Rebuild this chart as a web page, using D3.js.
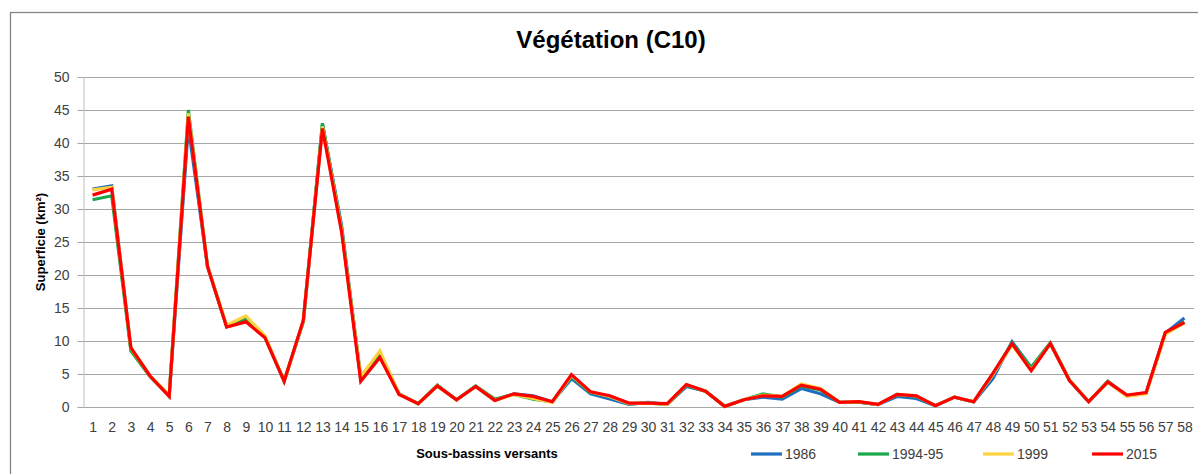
<!DOCTYPE html>
<html>
<head>
<meta charset="utf-8">
<script src="https://cdn.jsdelivr.net/npm/d3@7"></script>
<style>
  html, body { margin: 0; padding: 0; background: #fff; }
  svg { display: block; font-family: "Liberation Sans", Arial, sans-serif; }
</style>
</head>
<body>
<svg id="chart" width="1198" height="474"></svg>
<script>
// Sous-bassins versants 1..58
const categories = d3.range(1, 59).map(String);

// Surface of vegetation (km²) per sub-basin, by survey year
const s1986 = [33.0, 33.5, 8.8, 4.7, 1.7, 42.5, 21.3, 12.2, 13.3, 10.7,
  3.9, 13.0, 42.8, 27.5, 4.2, 7.8, 2.0, 0.5, 3.2, 1.1,
  3.1, 1.0, 2.0, 1.7, 0.8, 4.3, 2.0, 1.2, 0.4, 0.7,
  0.4, 3.1, 2.4, 0.1, 1.1, 1.5, 1.2, 2.8, 2.0, 0.7,
  0.75, 0.35, 1.6, 1.3, 0.2, 1.5, 0.75, 4.3, 9.9, 6.0,
  9.7, 4.0, 0.8, 3.8, 1.7, 2.1, 11.2, 13.5];
const s1994 = [31.4, 32.0, 8.5, 4.6, 1.8, 45.0, 21.3, 12.2, 13.2, 10.6,
  3.9, 12.9, 43.0, 27.0, 4.6, 8.1, 2.0, 0.5, 3.3, 1.1,
  3.2, 1.2, 1.9, 1.2, 0.8, 4.6, 2.2, 1.6, 0.5, 0.6,
  0.4, 3.3, 2.4, 0.1, 1.1, 2.0, 1.5, 3.2, 2.6, 0.7,
  0.75, 0.35, 1.9, 1.6, 0.2, 1.5, 0.8, 5.0, 9.7, 6.0,
  9.7, 4.1, 0.8, 3.9, 1.7, 2.1, 11.1, 12.9];
const s1999 = [32.9, 33.3, 8.9, 4.7, 1.8, 44.5, 21.3, 12.4, 13.8, 10.8,
  3.9, 13.0, 42.5, 26.8, 4.6, 8.5, 2.0, 0.5, 3.2, 1.1,
  3.1, 1.0, 1.9, 1.3, 0.7, 4.8, 2.3, 1.6, 0.5, 0.6,
  0.4, 3.4, 2.4, 0.1, 1.1, 1.8, 1.6, 3.5, 2.8, 0.7,
  0.8, 0.35, 1.9, 1.7, 0.2, 1.5, 0.8, 4.9, 9.4, 5.6,
  9.6, 4.1, 0.8, 3.8, 1.6, 2.0, 11.0, 12.8];
const s2015 = [32.1, 33.0, 9.0, 4.7, 1.6, 44.0, 21.3, 12.1, 12.9, 10.5,
  3.9, 13.1, 42.2, 26.5, 3.9, 7.5, 1.9, 0.5, 3.2, 1.1,
  3.1, 1.0, 2.0, 1.6, 0.8, 4.9, 2.3, 1.7, 0.6, 0.6,
  0.5, 3.4, 2.4, 0.1, 1.1, 1.7, 1.6, 3.3, 2.7, 0.7,
  0.8, 0.4, 1.9, 1.7, 0.2, 1.5, 0.8, 5.1, 9.6, 5.5,
  9.6, 4.0, 0.8, 3.8, 1.8, 2.2, 11.3, 12.8];

const seriesNames = ["1986", "1994-95", "1999", "2015"];
const seriesValues = [s1986, s1994, s1999, s2015];
const seriesColors = ["#1f6fc0", "#16a84a", "#ffd23f", "#ff0000"];
const yTicks = [0, 5, 10, 15, 20, 25, 30, 35, 40, 45, 50];

const svg = d3.select("#chart");
const margin = { left: 83, right: 4, top: 77, bottom: 67 };
const W = 1198, H = 474;

// outer chart frame (extends past the right / bottom edges)
svg.append("rect")
  .attr("x", 10.5).attr("y", 12.5)
  .attr("width", 1200).attr("height", 500)
  .attr("fill", "#fff").attr("stroke", "#868686").attr("stroke-width", 1.3);

const x = d3.scalePoint()
  .domain(categories)
  .range([margin.left, W - margin.right])
  .padding(0.5);
const y = d3.scaleLinear().domain([0, 50]).range([H - margin.bottom, margin.top]);

// horizontal gridlines
svg.append("g")
  .selectAll("line")
  .data(yTicks)
  .join("line")
  .attr("x1", margin.left).attr("x2", W - margin.right)
  .attr("y1", d => Math.round(y(d)) + 0.5).attr("y2", d => Math.round(y(d)) + 0.5)
  .attr("stroke", "#a6a6a6").attr("stroke-width", 1);

// y axis
const yAxis = svg.append("g")
  .attr("transform", `translate(${margin.left + 0.5},0)`)
  .call(d3.axisLeft(y).tickValues(yTicks).tickSize(6).tickPadding(8));
yAxis.select(".domain").attr("stroke", "#bfbfbf");
yAxis.selectAll(".tick line").attr("stroke", "#a6a6a6");
yAxis.selectAll(".tick text")
  .attr("fill", "#404040").style("font-size", "14px")
  .style("font-family", "Liberation Sans, Arial, sans-serif");

// x axis (labels only)
const xAxis = svg.append("g")
  .attr("transform", `translate(0,${y(0)})`)
  .call(d3.axisBottom(x).tickSize(0).tickPadding(15));
xAxis.select(".domain").remove();
xAxis.selectAll(".tick text")
  .attr("fill", "#404040").style("font-size", "14px")
  .style("font-family", "Liberation Sans, Arial, sans-serif");

// series lines
const line = d3.line()
  .x((d, i) => x(categories[i]))
  .y(d => y(d))
  .curve(d3.curveLinear);

seriesValues.forEach((vals, k) => {
  svg.append("path")
    .datum(vals)
    .attr("d", line)
    .attr("fill", "none")
    .attr("stroke", seriesColors[k])
    .attr("stroke-width", 3.2)
    .attr("stroke-linejoin", "miter");
});

// title
svg.append("text")
  .attr("x", 611).attr("y", 48)
  .attr("text-anchor", "middle")
  .style("font-size", "24px").style("font-weight", "bold")
  .attr("fill", "#000")
  .text("Végétation (C10)");

// axis titles
svg.append("text")
  .attr("transform", `translate(45,${(y(0) + y(50)) / 2}) rotate(-90)`)
  .attr("text-anchor", "middle")
  .style("font-size", "13px").style("font-weight", "bold")
  .attr("fill", "#000")
  .text("Superficie (km²)");

svg.append("text")
  .attr("x", 487).attr("y", 458)
  .attr("text-anchor", "middle")
  .style("font-size", "13px").style("font-weight", "bold")
  .attr("fill", "#000")
  .text("Sous-bassins versants");

// legend
const legendX = [751, 858, 983, 1092];
const legend = svg.append("g");
seriesNames.forEach((name, k) => {
  const g = legend.append("g").attr("transform", `translate(${legendX[k]},454)`);
  g.append("line")
    .attr("x1", 0).attr("x2", 31).attr("y1", 0).attr("y2", 0)
    .attr("stroke", seriesColors[k]).attr("stroke-width", 3.2);
  g.append("text")
    .attr("x", 34).attr("y", 5)
    .style("font-size", "14px")
    .attr("fill", "#404040")
    .text(name);
});
</script>
</body>
</html>
